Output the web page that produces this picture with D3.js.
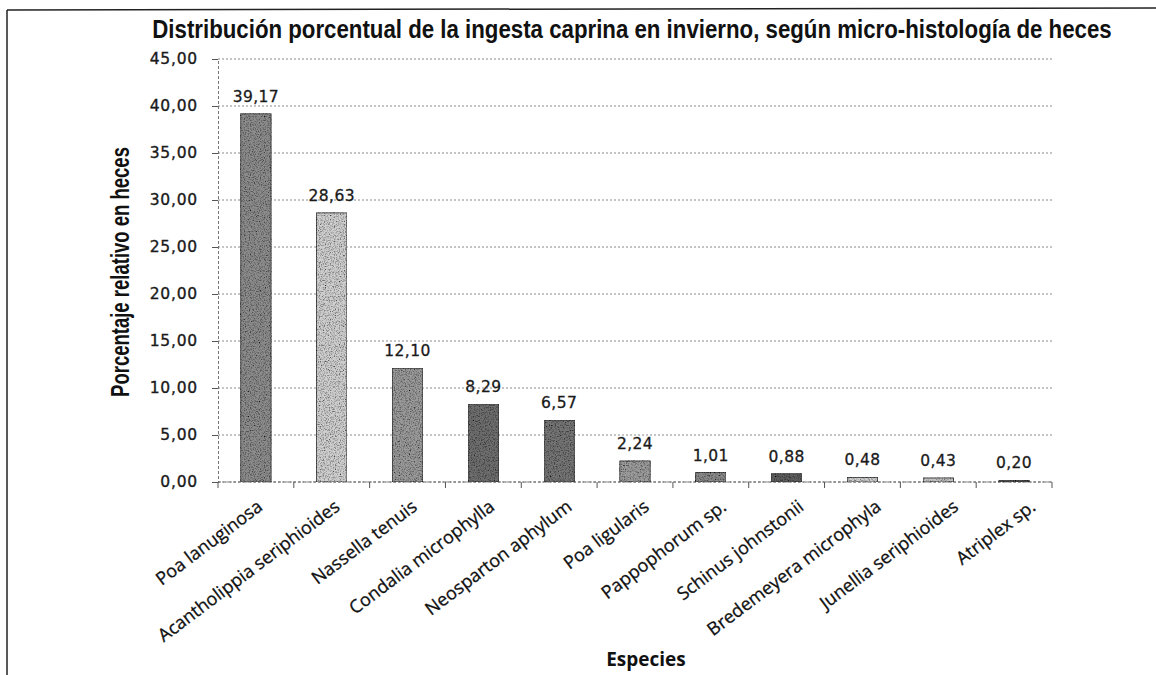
<!DOCTYPE html>
<html lang="es">
<head>
  <meta charset="UTF-8">
  <title>Distribución porcentual de la ingesta caprina en invierno</title>
  <script src="https://d3js.org/d3.v7.min.js"></script>
  <style>
    body { margin: 0; background: #fff; }
  </style>
</head>
<body>
  <svg width="1156" height="675"></svg>

  <script>
    // Datos
    const especies = [
      "Poa lanuginosa", "Acantholippia seriphioides", "Nassella tenuis",
      "Condalia microphylla", "Neosparton aphylum", "Poa ligularis",
      "Pappophorum sp.", "Schinus johnstonii", "Bredemeyera microphyla",
      "Junellia seriphioides", "Atriplex sp."
    ];
    const porcentajes = [39.17, 28.63, 12.10, 8.29, 6.57, 2.24, 1.01, 0.88, 0.48, 0.43, 0.20];
    const yTicks = [0, 5, 10, 15, 20, 25, 30, 35, 40, 45];
    const grises = ["#8c8c8c", "#cfcfcf", "#9a9a9a", "#6e6e6e", "#747474", "#9c9c9c",
                    "#8a8a8a", "#5e5e5e", "#d0d0d0", "#c4c4c4", "#555555"];

    const fmt = v => d3.format(".2f")(v).replace(".", ",");

    const margin = { top: 59, right: 104, bottom: 193, left: 218 };
    const W = 1156, H = 675;
    const width = W - margin.left - margin.right;
    const height = H - margin.top - margin.bottom;

    const svg = d3.select("svg");

    // grano tipo fotocopia para las barras
    const defs = svg.append("defs");
    const f = defs.append("filter").attr("id", "grano")
      .attr("x", 0).attr("y", 0).attr("width", 1).attr("height", 1);
    f.append("feTurbulence").attr("type", "fractalNoise")
      .attr("baseFrequency", 0.8).attr("numOctaves", 2).attr("seed", 3).attr("result", "ruido");
    f.append("feColorMatrix").attr("in", "ruido").attr("type", "matrix")
      .attr("values", "0 0 0 0 0  0 0 0 0 0  0 0 0 0 0  0 0 0 -2.2 1.25")
      .attr("result", "puntos");
    f.append("feComposite").attr("in", "puntos").attr("in2", "SourceGraphic")
      .attr("operator", "in").attr("result", "puntosDentro");
    const m = f.append("feMerge");
    m.append("feMergeNode").attr("in", "SourceGraphic");
    m.append("feMergeNode").attr("in", "puntosDentro");

    // marco del escaneo (solo arriba e izquierda visibles)
    svg.append("line").attr("x1", 7).attr("y1", 10).attr("x2", 1156).attr("y2", 8)
      .attr("stroke", "#222").attr("stroke-width", 1.5);
    svg.append("line").attr("x1", 7).attr("y1", 10).attr("x2", 7).attr("y2", 675)
      .attr("stroke", "#222").attr("stroke-width", 1.5);

    const g = svg.append("g").attr("transform", `translate(${margin.left},${margin.top})`);

    const x = d3.scaleBand().domain(especies).range([0, width]).paddingInner(0.6).paddingOuter(0.3);
    const y = d3.scaleLinear().domain([0, 45]).range([height, 0]);

    // cuadrícula
    g.append("g")
      .selectAll("line")
      .data(yTicks)
      .join("line")
      .attr("x1", 0).attr("x2", width)
      .attr("y1", d => y(d)).attr("y2", d => y(d))
      .attr("stroke", "#8a8a8a")
      .attr("stroke-width", 1)
      .attr("stroke-dasharray", "2,2");

    // eje Y
    const yAxis = g.append("g")
      .call(d3.axisLeft(y).tickValues(yTicks).tickFormat(fmt).tickSize(6).tickPadding(14));
    yAxis.select(".domain").attr("stroke", "#777").attr("stroke-dasharray", "3,2");
    yAxis.selectAll(".tick line").attr("stroke", "#555");
    yAxis.selectAll("text")
      .attr("font-family", "DejaVu Sans, Verdana, sans-serif")
      .attr("font-size", 15.5)
      .attr("letter-spacing", 0.8)
      .attr("stroke", "#1a1a1a")
      .attr("stroke-width", 0.35)
      .attr("fill", "#1a1a1a");

    // eje X con marcas en los límites de categoría
    const bw = x.step();
    g.append("line").attr("x1", 0).attr("x2", width).attr("y1", height).attr("y2", height)
      .attr("stroke", "#666").attr("stroke-dasharray", "3,2");
    g.append("g")
      .selectAll("line")
      .data(d3.range(especies.length + 1))
      .join("line")
      .attr("x1", i => i * bw).attr("x2", i => i * bw)
      .attr("y1", height).attr("y2", height + 6)
      .attr("stroke", "#555");

    // barras
    g.selectAll(".bar")
      .data(porcentajes)
      .join("rect")
      .attr("class", "bar")
      .attr("x", (d, i) => x(especies[i]))
      .attr("y", d => y(d))
      .attr("width", x.bandwidth())
      .attr("height", d => height - y(d))
      .attr("fill", (d, i) => grises[i])
      .attr("filter", "url(#grano)")
      .attr("stroke", "#333")
      .attr("stroke-width", 0.8);

    // etiquetas de valores
    g.selectAll(".lbl")
      .data(porcentajes)
      .join("text")
      .attr("class", "lbl")
      .attr("x", (d, i) => x(especies[i]) + x.bandwidth() / 2)
      .attr("y", d => y(d) - 12)
      .attr("text-anchor", "middle")
      .attr("font-family", "DejaVu Sans, Verdana, sans-serif")
      .attr("font-size", 15.5)
      .attr("letter-spacing", 0.4)
      .attr("stroke", "#1a1a1a")
      .attr("stroke-width", 0.3)
      .attr("fill", "#1a1a1a")
      .text(d => fmt(d));

    // etiquetas de categoría giradas
    g.selectAll(".cat")
      .data(especies)
      .join("text")
      .attr("class", "cat")
      .attr("transform", (d, i) => `translate(${x(d) + x.bandwidth() / 2 + 4 + i * 1.5},${height + 22}) rotate(-37)`)
      .attr("text-anchor", "end")
      .attr("dy", "0.35em")
      .attr("font-family", "Open Sans, sans-serif")
      .attr("font-size", 18)
      .attr("stroke", "#111")
      .attr("stroke-width", 0.3)
      .attr("fill", "#111")
      .text(d => d);

    // títulos (ancho ajustado con escala horizontal)
    function estirar(sel, cx, cy, ancho, rot) {
      const w = sel.node().getComputedTextLength();
      sel.attr("transform", `translate(${cx},${cy}) rotate(${rot}) scale(${ancho / w},1)`);
    }

    const titulo = svg.append("text")
      .attr("text-anchor", "middle")
      .attr("font-family", "Liberation Sans, Arial, sans-serif")
      .attr("font-size", 25)
      .attr("font-weight", "bold")
      .attr("fill", "#111")
      .text("Distribución porcentual de la ingesta caprina en invierno, según micro-histología de heces");
    estirar(titulo, 632, 38, 960, 0);

    const yTitulo = svg.append("text")
      .attr("text-anchor", "middle")
      .attr("font-family", "Liberation Sans, Arial, sans-serif")
      .attr("font-size", 25)
      .attr("font-weight", "bold")
      .attr("fill", "#111")
      .text("Porcentaje relativo en heces");
    estirar(yTitulo, 129, 272, 250, -90);

    svg.append("text")
      .attr("x", margin.left + width / 2 + 11).attr("y", 666)
      .attr("text-anchor", "middle")
      .attr("font-family", "Open Sans, sans-serif")
      .attr("font-size", 19)
      .attr("font-weight", "bold")
      .attr("fill", "#111")
      .text("Especies");
  </script>
</body>
</html>
